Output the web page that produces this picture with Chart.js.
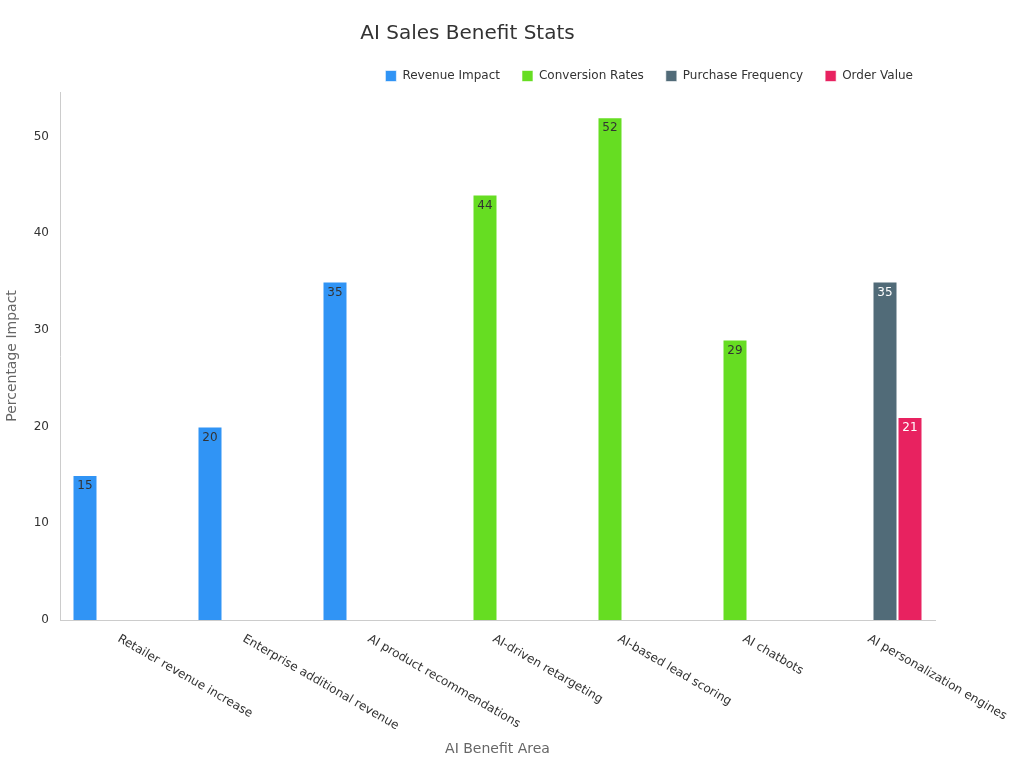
<!DOCTYPE html>
<html><head><meta charset="utf-8">
<script src="https://cdn.jsdelivr.net/npm/chart.js@4"></script>
<style>html,body{margin:0;background:#fff}#w{width:1024px;height:768px}</style>
</head><body><div id="w"><canvas id="c"></canvas></div>
<script>
const categories = ["Retailer revenue increase","Enterprise additional revenue","AI product recommendations","AI-driven retargeting","AI-based lead scoring","AI chatbots","AI personalization engines"];
const revenueImpact = [15,20,35,null,null,null,null];
const conversionRates = [null,null,null,44,52,29,null];
const purchaseFrequency = [null,null,null,null,null,null,35];
const orderValue = [null,null,null,null,null,null,21];
const labelColors = ["#333","#333","#fff","#fff"];
const labelPlugin = {id:'lbl',afterDatasetsDraw(chart){const ctx=chart.ctx;ctx.save();ctx.font='12px "DejaVu Sans"';ctx.textAlign='center';ctx.textBaseline='top';
chart.data.datasets.forEach((ds,i)=>{chart.getDatasetMeta(i).data.forEach((el,j)=>{const v=ds.data[j];if(v==null)return;ctx.fillStyle=labelColors[i];ctx.fillText(String(v),el.x,el.y+5);});});
const xs=chart.scales.x;ctx.fillStyle='#333';ctx.textAlign='left';ctx.textBaseline='middle';
categories.forEach((c,i)=>{const x=xs.getPixelForValue(i),y=xs.top+18;ctx.save();ctx.translate(x-4,y);ctx.rotate(Math.PI/6);ctx.fillText(c,0,0);ctx.restore();});
ctx.restore();}};
new Chart(document.getElementById('c'),{type:'bar',
data:{labels:categories,datasets:[
{label:'Revenue Impact',data:revenueImpact,backgroundColor:'#3094f5'},
{label:'Conversion Rates',data:conversionRates,backgroundColor:'#66dd22'},
{label:'Purchase Frequency',data:purchaseFrequency,backgroundColor:'#516b78'},
{label:'Order Value',data:orderValue,backgroundColor:'#e82260'}]},
options:{responsive:true,maintainAspectRatio:false,animation:false,
datasets:{bar:{categoryPercentage:0.8,barPercentage:1,borderWidth:1,borderColor:'rgba(255,255,255,0.6)'}},
layout:{padding:{left:0,right:89,top:22,bottom:6}},
plugins:{title:{display:true,text:'AI Sales Benefit Stats',font:{family:'DejaVu Sans',size:20,weight:'normal'},color:'#333',padding:{top:0,bottom:2}},
legend:{align:'end',labels:{boxWidth:11,boxHeight:11,padding:22,font:{family:'DejaVu Sans',size:12},color:'#333'}},tooltip:{enabled:false}},
scales:{x:{grid:{display:false},border:{color:'#ccc'},ticks:{display:false},afterFit:s=>{s.height=142;},
title:{display:true,text:'AI Benefit Area',color:'#666',font:{family:'DejaVu Sans',size:14}}},
y:{min:0,max:54.6,grid:{display:false},border:{color:'#ccc'},afterFit:s=>{s.width=60;},
afterBuildTicks:a=>{a.ticks=[0,10,20,30,40,50].map(v=>({value:v}));},
ticks:{color:'#333',font:{family:'DejaVu Sans',size:12}},
title:{display:true,text:'Percentage Impact',color:'#666',font:{family:'DejaVu Sans',size:14}}}}},
plugins:[labelPlugin]});
</script></body></html>
